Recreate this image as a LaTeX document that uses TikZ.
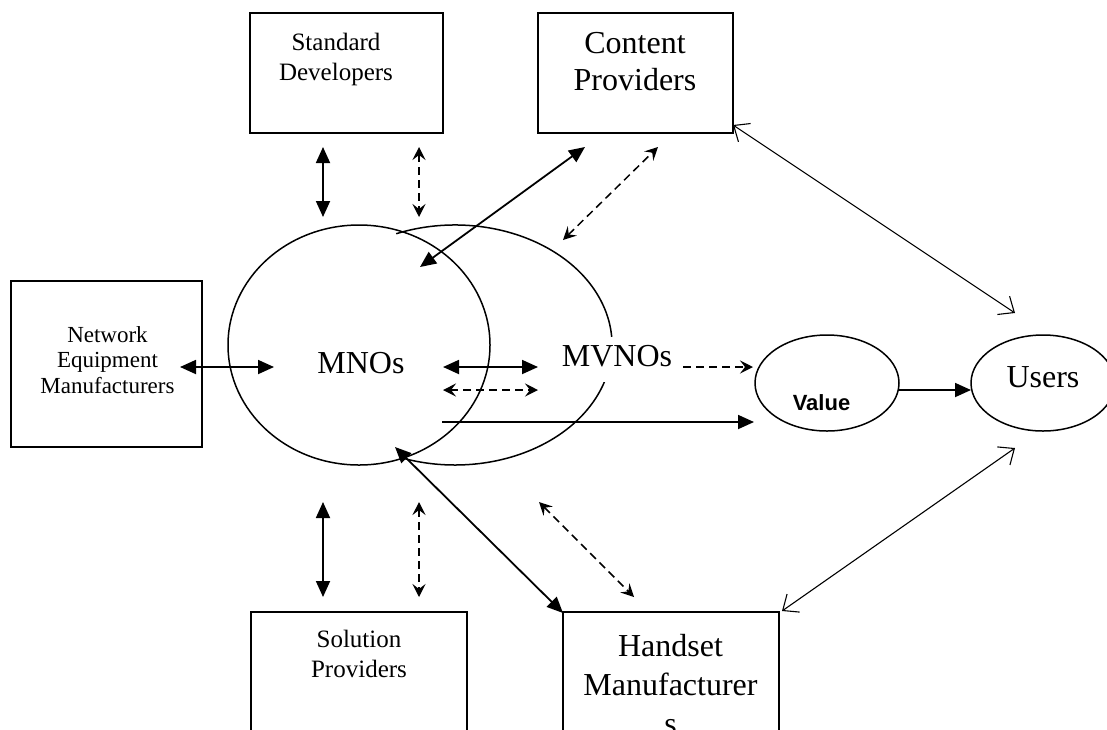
\documentclass[tikz,border=0pt]{standalone}
\usepackage{fontspec}
\setmainfont{Liberation Serif}
\newfontfamily\valuefont{Liberation Sans}
\usetikzlibrary{arrows.meta,shapes.geometric}
\begin{document}
\begin{tikzpicture}[x=1pt,y=-1pt,
  box/.style={draw, line width=1.8pt, inner sep=0pt},
  oval/.style={draw, ellipse, line width=1.5pt, inner sep=0pt},
  txtS/.style={font=\fontsize{25}{30}\selectfont, align=center, inner sep=0pt},
  txtN/.style={font=\fontsize{23}{25.5}\selectfont, align=center, inner sep=0pt},
  txtL/.style={font=\fontsize{32}{37}\selectfont, align=center, inner sep=0pt},
  txtH/.style={font=\fontsize{32}{39}\selectfont, align=center, inner sep=0pt},
  tri/.tip={Triangle[length=16pt,width=14pt]},
  stl/.tip={Stealth[length=13pt,width=13pt,inset=5pt]},
  brb/.tip={Straight Barb[length=13pt,width=22pt,line width=1.1pt]},
  solidarr/.style={line width=1.8pt, tri-tri},
  solidone/.style={line width=1.8pt, -tri},
  dasharr/.style={line width=1.5pt, dash pattern=on 8pt off 5pt, stl-stl},
  dashone/.style={line width=1.5pt, dash pattern=on 8pt off 5pt, -stl},
  thinarr/.style={line width=1.1pt, brb-brb},
]
\fill[white] (0,0) rectangle (1107,729);
\useasboundingbox (0,0) rectangle (1107,729);
\clip (0,0) rectangle (1107,729);

% boxes
\node[box, minimum width=193pt, minimum height=120pt] (sdb) at (346.5,73) {};
\node[box, minimum width=195pt, minimum height=120pt] (cpb) at (635.5,73) {};
\node[box, minimum width=191pt, minimum height=166pt] (nemb) at (106.5,364) {};
\node[box, minimum width=216pt, minimum height=168pt] (sob) at (359,696) {};
\node[box, minimum width=216pt, minimum height=168pt] (hmb) at (671,696) {};

% ellipses
\node[oval, minimum width=262pt, minimum height=240pt] (mno) at (359,345) {};
\draw[line width=1.5pt] (455,345) ++(-112:157 and 120)
  arc[start angle=-112, end angle=109, x radius=157, y radius=120];
\node[oval, minimum width=144pt, minimum height=96pt] (val) at (827,383) {};
\node[oval, minimum width=144pt, minimum height=96pt] (usr) at (1043,383) {};

% texts (base anchor = baseline of the last line)
\node[txtS, anchor=base] (sdt) at (336,80) {Standard\\Developers};
\node[txtL, anchor=base] (cpt) at (635,90) {Content\\Providers};
\node[txtN, anchor=base] (nemt) at (107.5,393) {Network\\Equipment\\Manufacturers};
\node[txtS, anchor=base] (sot) at (359,677) {Solution\\Providers};
\node[txtH, anchor=base] (hmt) at (670.5,734) {Handset\\Manufacturer\\s};
\node[txtL, anchor=base] (mnot) at (361,373) {MNOs};
\node[txtL, anchor=base, fill=white, text height=25pt, text depth=12pt,
      inner xsep=2pt, inner ysep=4pt] (mvnot) at (617,366) {MVNOs};
\node[txtL, anchor=base] (usrt) at (1043,387) {Users};
\node[anchor=base, inner sep=0pt, font=\valuefont\bfseries\fontsize{22}{26}\selectfont]
  (valt) at (821.5,410) {Value};

% connector end points
\coordinate (a1) at (323,147); \coordinate (a2) at (323,217);
\coordinate (b1) at (419,147); \coordinate (b2) at (419,217);
\coordinate (c1) at (420,267); \coordinate (c2) at (585,147);
\coordinate (d1) at (563,240); \coordinate (d2) at (658,147);
\coordinate (e1) at (733,125); \coordinate (e2) at (1015,313);
\coordinate (f1) at (180,367); \coordinate (f2) at (274,367);
\coordinate (g1) at (443,367); \coordinate (g2) at (538,367);
\coordinate (h1) at (443,390); \coordinate (h2) at (538,390);
\coordinate (i1) at (442,422); \coordinate (i2) at (754,422);
\coordinate (j1) at (683,367); \coordinate (j2) at (753,367);
\coordinate (k1) at (899,390); \coordinate (k2) at (971,390);
\coordinate (l1) at (323,502); \coordinate (l2) at (323,597);
\coordinate (m1) at (419,502); \coordinate (m2) at (419,597);
\coordinate (n1) at (395,447); \coordinate (n2) at (563,613);
\coordinate (o1) at (539,502); \coordinate (o2) at (634,597);
\coordinate (p1) at (782,611); \coordinate (p2) at (1015,448);

% connectors
\draw[solidarr] (a1) -- (a2);
\draw[dasharr] (b1) -- (b2);
\draw[solidarr] (c1) -- (c2);
\draw[dasharr] (d1) -- (d2);
\draw[thinarr] (e1) -- (e2);
\draw[solidarr] (f1) -- (f2);
\draw[solidarr] (g1) -- (g2);
\draw[dasharr] (h1) -- (h2);
\draw[solidone] (i1) -- (i2);
\draw[dashone] (j1) -- (j2);
\draw[solidone] (k1) -- (k2);
\draw[solidarr] (l1) -- (l2);
\draw[dasharr] (m1) -- (m2);
\draw[solidarr] (n1) -- (n2);
\draw[dasharr] (o1) -- (o2);
\draw[thinarr] (p1) -- (p2);
\end{tikzpicture}
\end{document}
